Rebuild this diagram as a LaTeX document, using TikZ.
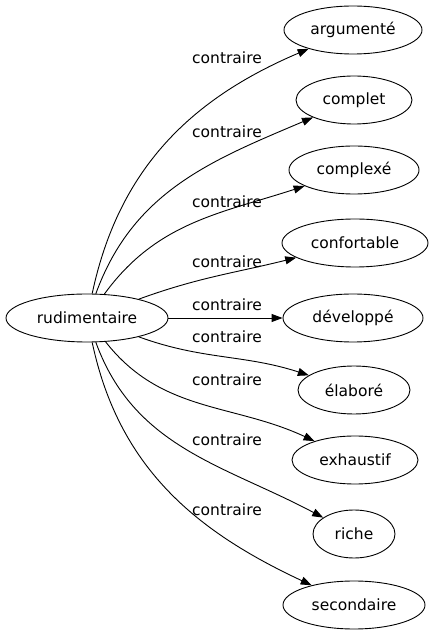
\documentclass[tikz,border=0pt]{standalone}
\usepackage{fontspec}
\setmainfont{DejaVu Sans}
\usetikzlibrary{shapes,arrows.meta}
\tikzset{
  word/.style={draw,ellipse,line width=0.9pt,minimum height=48pt,inner sep=0pt,font=\fontsize{15.5}{18}\selectfont},
  rel/.style={font=\fontsize{15.5}{18}\selectfont,inner sep=1pt},
  link/.style={line width=0.9pt,-{Triangle[length=11pt,width=8pt]}}
}
\begin{document}
\begin{tikzpicture}[x=1pt,y=1pt]
			\useasboundingbox (0,0) rectangle (433,635);
			\node[word,minimum width=162pt] (rud) at (87,317) {rudimentaire};
			\node[word,minimum width=138pt] (arg) at (353,605) {argumenté};
			\node[word,minimum width=116pt] (cpl) at (354,535) {complet};
			\node[word,minimum width=130pt] (cpx) at (354,465) {complexé};
			\node[word,minimum width=146pt] (cft) at (355,392) {confortable};
			\node[word,minimum width=140pt] (dev) at (353,317) {développé};
			\node[word,minimum width=112pt] (ela) at (354,245) {élaboré};
			\node[word,minimum width=126pt] (exh) at (355,175) {exhaustif};
			\node[word,minimum width=82pt] (ric) at (354,101) {riche};
			\node[word,minimum width=142pt] (sec) at (354,30) {secondaire};
			\draw[link] (rud) to[out=78,in=203] (arg);
			\draw[link] (rud) to[out=70,in=203] (cpl);
			\draw[link] (rud) to[out=54,in=198] (cpx);
			\draw[link] (rud) to[out=20,in=194] (cft);
			\draw[link] (rud) -- (dev);
			\draw[link] (rud) to[out=-20,in=162] (ela);
			\draw[link] (rud) to[out=-52,in=155] (exh);
			\draw[link] (rud) to[out=-70,in=152] (ric);
			\draw[link] (rud) to[out=-78,in=155] (sec);
			\node[rel] (l1) at (227,577) {contraire};
			\node[rel] (l2) at (227,503) {contraire};
			\node[rel] (l3) at (227,433) {contraire};
			\node[rel] (l4) at (227,373) {contraire};
			\node[rel] (l5) at (227,330) {contraire};
			\node[rel] (l6) at (227,298) {contraire};
			\node[rel] (l7) at (227,255) {contraire};
			\node[rel] (l8) at (227,195) {contraire};
			\node[rel] (l9) at (227,125) {contraire};
		\end{tikzpicture}
\end{document}
